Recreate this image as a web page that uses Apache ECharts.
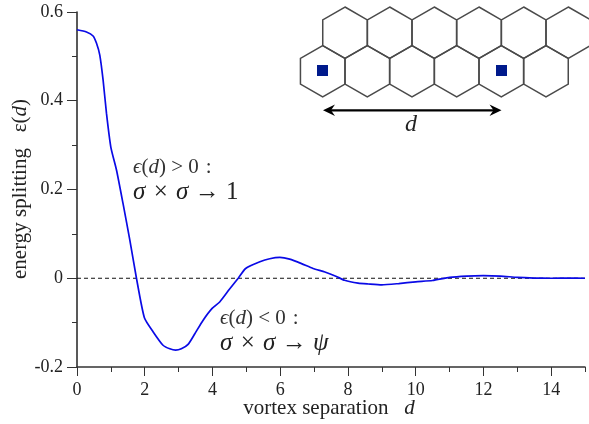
<!DOCTYPE html>
<html><head><meta charset="utf-8">
<style>html,body{margin:0;padding:0;background:#fff}#c{width:589px;height:424px}</style>
<script src="https://cdn.jsdelivr.net/npm/echarts@6/dist/echarts.min.js"></script>
</head><body><div id="c"></div>
<script>
const separation = [0,0.28,0.475,0.574,0.673,0.77,0.87,1,1.166,1.36,1.56,1.756,1.99,2.25,2.54,2.74,2.91,3.08,3.28,3.48,3.72,3.99,4.22,4.5,4.76,4.98,5.4,5.69,5.99,6.28,6.63,6.97,7.32,7.66,7.9,8.3,8.6,9,9.5,10,10.5,11,11.5,12,12.5,13,13.5,14,14.5,15];
const splitting = [0.56,0.555,0.546,0.53,0.503,0.447,0.372,0.295,0.244,0.168,0.086,0,-0.089,-0.121,-0.151,-0.159,-0.162,-0.159,-0.149,-0.125,-0.095,-0.068,-0.053,-0.025,0,0.022,0.037,0.044,0.047,0.043,0.033,0.022,0.014,0.004,-0.0045,-0.011,-0.013,-0.015,-0.012,-0.008,-0.005,0.002,0.005,0.006,0.005,0.002,0.0005,0,0.0005,0];
const baseline = [[0,0],[15,0]];
const xMajor = [0,2,4,6,8,10,12,14];
const xMinor = [1,3,5,7,9,11,13,15];
const topRow = [345,389.7,434.3,479,523.7,568.3];
const bottomRow = [322.7,367.3,412,456.7,501.3,546];
const serif = '"Liberation Serif","Times New Roman",serif';
const ink = '#333';
function hex(cx,cy){const R=25.7,h=R*Math.cos(Math.PI/6),pts=[[0,-R],[h,-R/2],[h,R/2],[0,R],[-h,R/2],[-h,-R/2]];
 return {type:'polygon',shape:{points:pts.map(p=>[cx+p[0],cy+p[1]])},style:{fill:'none',stroke:'#4a4a4a',lineWidth:1.5},z:5};}
function square(cx,cy){return {type:'rect',shape:{x:cx-5.5,y:cy-5.5,width:11,height:11},style:{fill:'#001a8c'},z:6};}
function txt(x,y,rich,text,align){return {type:'text',x,y,z:7,style:{text,align:align||'left',verticalAlign:'middle',fill:'#222',rich,font:'20px '+serif}};}
const rich={i:{fontFamily:serif,fontStyle:'italic',fontSize:21,fill:'#333',fontWeight:'normal'},r:{fontFamily:serif,fontSize:21,fill:'#333'},
 I:{fontFamily:serif,fontStyle:'italic',fontSize:25,fill:'#222'},R:{fontFamily:serif,fontSize:25,fill:'#222'}};
const gfx=[...topRow.map(x=>hex(x,32.7)),...bottomRow.map(x=>hex(x,71.3)),square(322.5,70.5),square(501.5,70.5),
 {type:'line',shape:{x1:330,y1:110.3,x2:495,y2:110.3},style:{stroke:'#000',lineWidth:2.2},z:6},
 {type:'polygon',shape:{points:[[323,110.3],[335,104.5],[331,110.3],[335,116]]},style:{fill:'#000'},z:6},
 {type:'polygon',shape:{points:[[501.5,110.3],[489.5,104.5],[493.5,110.3],[489.5,116]]},style:{fill:'#000'},z:6},
 {type:'text',x:411,y:125,z:7,style:{text:'d',align:'center',verticalAlign:'middle',font:'italic 24px '+serif,fill:'#222'}},
 txt(133,167,rich,'{i|ϵ}{r|(}{i|d}{r|) > 0\u200A :}'),
 txt(133,192,rich,'{I|σ}{R|\u200A × \u200A}{I|σ}{R| → 1}'),
 txt(220,318,rich,'{i|ϵ}{r|(}{i|d}{r|) < 0\u200A :}'),
 txt(220,343,rich,'{I|σ}{R|\u200A × \u200A}{I|σ}{R| → }{I|ψ}'),
 {type:'text',x:329,y:408,z:7,style:{text:'{a|vortex separation   }{b|d}',align:'center',verticalAlign:'middle',rich:{a:{fontFamily:serif,fontSize:21,fill:'#222'},b:{fontFamily:serif,fontStyle:'italic',fontSize:21,fill:'#222'}}}},
 {type:'text',x:20,y:189,rotation:Math.PI/2,z:7,style:{text:'{a|energy splitting   ε(}{b|d}{a|)}',align:'center',verticalAlign:'middle',rich:{a:{fontFamily:serif,fontSize:21,fill:'#222'},b:{fontFamily:serif,fontStyle:'italic',fontSize:21,fill:'#222'}}}}
];
const chart=echarts.init(document.getElementById('c'),null,{renderer:'canvas'});
chart.setOption({animation:false,backgroundColor:'#fff',
 grid:{left:77,right:4,top:12,bottom:57,containLabel:false},
 xAxis:[{type:'value',min:0,max:15,interval:2,splitLine:{show:false},
   axisLine:{onZero:false,lineStyle:{color:ink,width:1.5}},
   axisTick:{customValues:xMajor,length:9,inside:false,lineStyle:{color:ink,width:1}},
   axisLabel:{customValues:xMajor,margin:14,fontFamily:serif,fontSize:18,color:'#222'}},
  {type:'value',position:'bottom',min:0,max:15,interval:1,splitLine:{show:false},
   axisLine:{show:false,onZero:false},
   axisTick:{customValues:xMinor,length:5,lineStyle:{color:ink,width:1}},axisLabel:{show:false}}],
 yAxis:{type:'value',min:-0.2,max:0.6,interval:0.2,splitLine:{show:false},
   axisLine:{onZero:false,lineStyle:{color:'#222',width:1.5}},
   axisTick:{length:10,lineStyle:{color:ink,width:1}},
   minorTick:{show:true,splitNumber:2,length:5,lineStyle:{color:ink,width:1}},
   axisLabel:{margin:14,fontFamily:serif,fontSize:18,color:'#222',formatter:v=>Math.abs(v)<1e-9?'0':String(+v.toFixed(1))}},
 series:[
  {type:'line',name:'zero',data:baseline,showSymbol:false,silent:true,lineStyle:{color:'#111',width:1,type:[4,3]}},
  {type:'line',name:'splitting',data:separation.map((d,i)=>[d,splitting[i]]),showSymbol:false,smooth:0.2,lineStyle:{color:'#0a0ae6',width:1.7},z:3}
 ],
 graphic:gfx});
</script></body></html>
